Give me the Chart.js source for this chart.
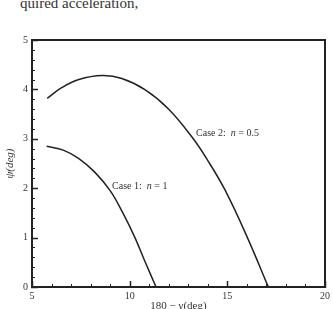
<!DOCTYPE html>
<html>
<head>
<meta charset="utf-8">
<script src="https://cdn.jsdelivr.net/npm/chart.js@4/dist/chart.umd.min.js"></script>
<style>
  html, body { margin: 0; padding: 0; background: #fff; }
  #wrap { position: relative; width: 333px; height: 309px; overflow: hidden; }
  #top { position: absolute; left: 20px; top: -5px; font: 15px "Liberation Serif", serif; color: #333; white-space: nowrap; }
  canvas { position: absolute; left: 0; top: 0; }
</style>
</head>
<body>
<div id="wrap">
  <div id="top">quired acceleration,</div>
  <canvas id="myChart" width="333" height="309"></canvas>
</div>
<script>
// data
let case1X = [5.75, 6.6, 7.4, 8.2, 9.0, 9.65, 10.27, 10.8, 11.35];
let case1Y = [2.85, 2.77, 2.6, 2.33, 1.95, 1.5, 1.0, 0.5, 0];
let case2X = [5.78, 6.5, 7.4, 8.6, 9.6, 10.8, 12.0, 13.2, 14.0, 14.9, 16.05, 17.1];
let case2Y = [3.82, 4.03, 4.2, 4.28, 4.22, 3.99, 3.6, 3.03, 2.56, 1.95, 0.98, 0];
let xMajor = [5, 10, 15, 20];
let yMajor = [0, 1, 2, 3, 4, 5];

// text notes, in data units
let notes = [
    { x: 9.1, y: 2.04, parts: ['Case 1:  ', 'n', ' = 1'] },
    { x: 13.4, y: 3.1, parts: ['Case 2:  ', 'n', ' = 0.5'] }
];

function toPoints(xs, ys) {
    return xs.map(function (x, i) {
        return { x: x, y: ys[i] };
    });
}

const serif = '"Liberation Serif", "DejaVu Serif", serif';
const ink = '#222';

// frame, inside ticks and the notes
let framePlugin = {
    id: 'frame',
    afterDraw: function (chart) {
        let ctx = chart.ctx;
        let a = chart.chartArea;
        let xs = chart.scales.x;
        let ys = chart.scales.y;
        ctx.save();
        ctx.strokeStyle = ink;
        for (let v = 5; v <= 20; v += 1) {
            let px = Math.round(xs.getPixelForValue(v)) + 0.5;
            let major = xMajor.indexOf(v) >= 0;
            ctx.beginPath();
            ctx.moveTo(px, a.bottom + (major ? 1 : 0));
            ctx.lineTo(px, a.bottom - (major ? 6 : 3));
            ctx.lineWidth = major ? 1.5 : 1;
            ctx.stroke();
        }
        for (let i = 0; i <= 25; i++) {
            let v = i * 0.2;
            let py = Math.round(ys.getPixelForValue(v)) + 0.5;
            let major = i % 5 === 0;
            ctx.beginPath();
            ctx.moveTo(a.left - (major ? 1 : 0), py);
            ctx.lineTo(a.left + (major ? 6 : 3), py);
            ctx.lineWidth = major ? 1.5 : 1;
            ctx.stroke();
        }
        // box
        ctx.lineWidth = 2;
        ctx.strokeRect(a.left, a.top, a.right - a.left, a.bottom - a.top);
        // notes
        ctx.fillStyle = '#333';
        ctx.textBaseline = 'middle';
        notes.forEach(function (n) {
            let px = xs.getPixelForValue(n.x);
            let py = ys.getPixelForValue(n.y);
            n.parts.forEach(function (p, k) {
                ctx.font = (k === 1 ? 'italic ' : '') + '10px ' + serif;
                ctx.fillText(p, px, py);
                px += ctx.measureText(p).width;
            });
        });
        ctx.restore();
    }
};

let ctx = document.getElementById('myChart').getContext('2d');
let chart = new Chart(ctx, {
    type: 'scatter',
    data: {
        datasets: [{
            label: 'Case 1',
            data: toPoints(case1X, case1Y),
            showLine: true,
            borderColor: ink,
            borderWidth: 1.5,
            pointRadius: 0,
            tension: 0.4
        }, {
            label: 'Case 2',
            data: toPoints(case2X, case2Y),
            showLine: true,
            borderColor: ink,
            borderWidth: 1.5,
            pointRadius: 0,
            tension: 0.4
        }]
    },
    options: {
        responsive: false,
        animation: false,
        layout: { padding: { left: 0, top: 40, right: 5, bottom: -4 } },
        plugins: { legend: { display: false }, tooltip: { enabled: false } },
        scales: {
            x: {
                type: 'linear',
                min: 5,
                max: 20,
                afterFit: function (s) { s.height = 26; },
                afterBuildTicks: function (s) {
                    s.ticks = xMajor.map(function (v) { return { value: v }; });
                },
                grid: { display: false, drawTicks: false },
                border: { display: false },
                ticks: {
                    padding: 3,
                    color: '#333',
                    font: { family: serif, size: 10 }
                },
                title: {
                    display: true,
                    text: '180 − γ(deg)',
                    color: '#333',
                    padding: 0,
                    font: { family: serif, size: 11 }
                }
            },
            y: {
                type: 'linear',
                min: 0,
                max: 5,
                afterFit: function (s) { s.width = 32; },
                afterBuildTicks: function (s) {
                    s.ticks = yMajor.map(function (v) { return { value: v }; });
                },
                grid: { display: false, drawTicks: false },
                border: { display: false },
                ticks: {
                    padding: 4,
                    color: '#333',
                    font: { family: serif, size: 10 }
                },
                title: {
                    display: true,
                    text: 'ψ(deg)',
                    color: '#333',
                    padding: { top: 4, bottom: 0 },
                    font: { family: serif, size: 11, style: 'italic' }
                }
            }
        }
    },
    plugins: [framePlugin]
});
</script>
</body>
</html>
